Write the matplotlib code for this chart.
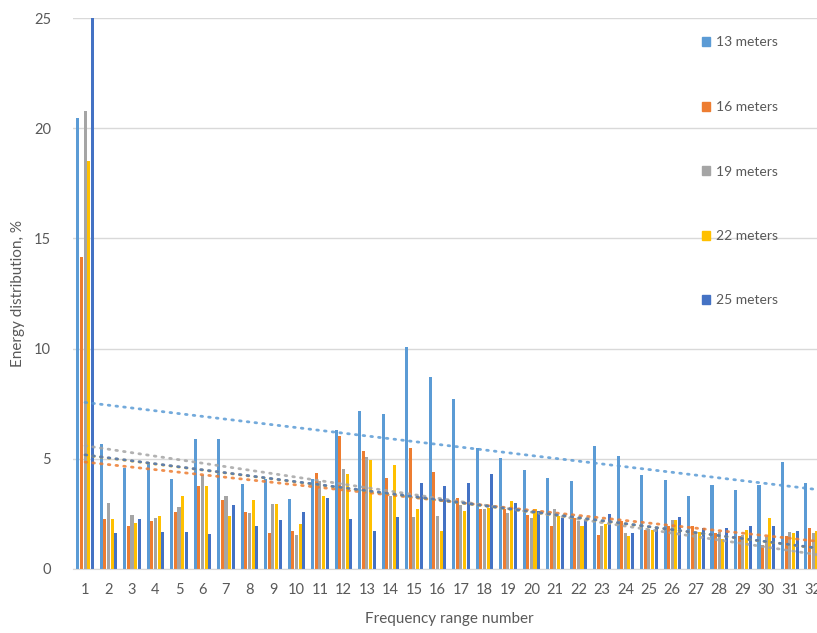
import numpy as np
import matplotlib.pyplot as plt
from matplotlib.patches import Patch

# данные
ranges = np.arange(1, 33)
series_names = ['13 meters', '16 meters', '19 meters', '22 meters', '25 meters']
m13 = [20.45, 5.66, 4.57, 4.84, 4.07, 5.88, 5.88, 3.84, 4.10, 3.18, 4.09, 6.29, 7.17, 7.02, 10.08, 8.71,
       7.70, 5.47, 5.05, 4.47, 4.11, 3.98, 5.58, 5.12, 4.26, 4.03, 3.33, 3.83, 3.60, 3.83, 4.85, 3.91]
m16 = [14.15, 2.25, 1.95, 2.16, 2.60, 3.77, 3.11, 2.60, 1.65, 1.71, 4.36, 6.03, 5.35, 4.14, 5.50, 4.41,
       3.23, 2.70, 2.70, 2.47, 1.94, 2.32, 1.56, 2.17, 1.79, 1.94, 1.97, 1.64, 1.48, 1.11, 1.48, 1.86]
m19 = [20.80, 2.98, 2.46, 2.30, 2.82, 4.27, 3.29, 2.54, 2.97, 1.56, 3.98, 4.55, 5.09, 3.30, 2.36, 2.42,
       2.92, 2.73, 2.55, 2.32, 2.73, 2.17, 1.94, 1.64, 1.82, 2.21, 1.64, 1.70, 1.53, 1.45, 1.67, 1.64]
m22 = [18.50, 2.25, 2.08, 2.39, 3.29, 3.77, 2.42, 3.15, 2.97, 2.06, 3.30, 4.33, 4.94, 4.71, 2.73, 1.71,
       2.62, 2.77, 3.10, 2.70, 2.39, 1.97, 2.06, 1.48, 1.79, 2.21, 1.67, 1.36, 1.79, 2.32, 1.64, 1.71]
m25 = [25.00, 1.64, 2.25, 1.68, 1.68, 1.59, 2.90, 1.97, 2.24, 2.60, 3.23, 2.29, 1.71, 2.36, 3.91, 3.76,
       3.91, 4.33, 3.00, 2.65, 2.32, 2.24, 2.50, 1.64, 1.86, 2.36, 1.86, 1.86, 1.94, 1.94, 1.71, 1.50]
datos = [m13, m16, m19, m22, m25]
colores = ['#5B9BD5', '#ED7D31', '#A5A5A5', '#FFC000', '#4472C4']

plt.rcParams['font.family'] = ['Lato', 'DejaVu Sans']
gris = '#595959'

fig = plt.figure(figsize=(8.17, 6.33), dpi=100)
# el área del gráfico sigue más allá del borde derecho (recortado como en la imagen)
ax = fig.add_axes([73.3 / 817, 64 / 633, (825 - 73.3) / 817, 551 / 633])

paso = 0.155
ancho = 0.13
for i, (serie, col) in enumerate(zip(datos, colores)):
    ax.bar(ranges + (i - 2) * paso, serie, width=ancho, color=col, zorder=2)

# líneas de tendencia lineales (punteadas)
for serie, col in zip(datos, colores):
    k, b = np.polyfit(ranges, serie, 1)
    xs = np.array([1, 32.5])
    ax.plot(xs, k * xs + b, color=col, linestyle=(0, (0.6, 2.2)), linewidth=2.0,
            dash_capstyle='round', alpha=0.85, zorder=3)

ax.set_xlim(0.5, 32.5)
ax.set_ylim(0, 25)
ax.set_yticks([0, 5, 10, 15, 20, 25])
ax.set_xticks(ranges)
ax.yaxis.grid(True, color='#D9D9D9', linewidth=1)
ax.set_axisbelow(True)
for s in ['top', 'right', 'left']:
    ax.spines[s].set_visible(False)
ax.spines['bottom'].set_color('#D9D9D9')
ax.tick_params(axis='both', length=0, colors=gris, labelsize=10.5)
ax.tick_params(axis='y', pad=16)
ax.tick_params(axis='x', pad=10)
ax.set_xlabel('Frequency range number', color=gris, fontsize=11, labelpad=11)
ax.set_ylabel('Energy distribution, %', color=gris, fontsize=11)
ax.yaxis.set_label_coords(-0.064, 0.5)

handles = [Patch(color=c) for c in colores]
leg = fig.legend(handles, series_names, loc='upper left', bbox_to_anchor=(689 / 817, 1 - 24 / 633),
                 frameon=False, fontsize=10, labelspacing=3.78, handlelength=0.6, handleheight=0.6,
                 handletextpad=0.45, labelcolor=gris)

fig.savefig('out.png', dpi=100)
